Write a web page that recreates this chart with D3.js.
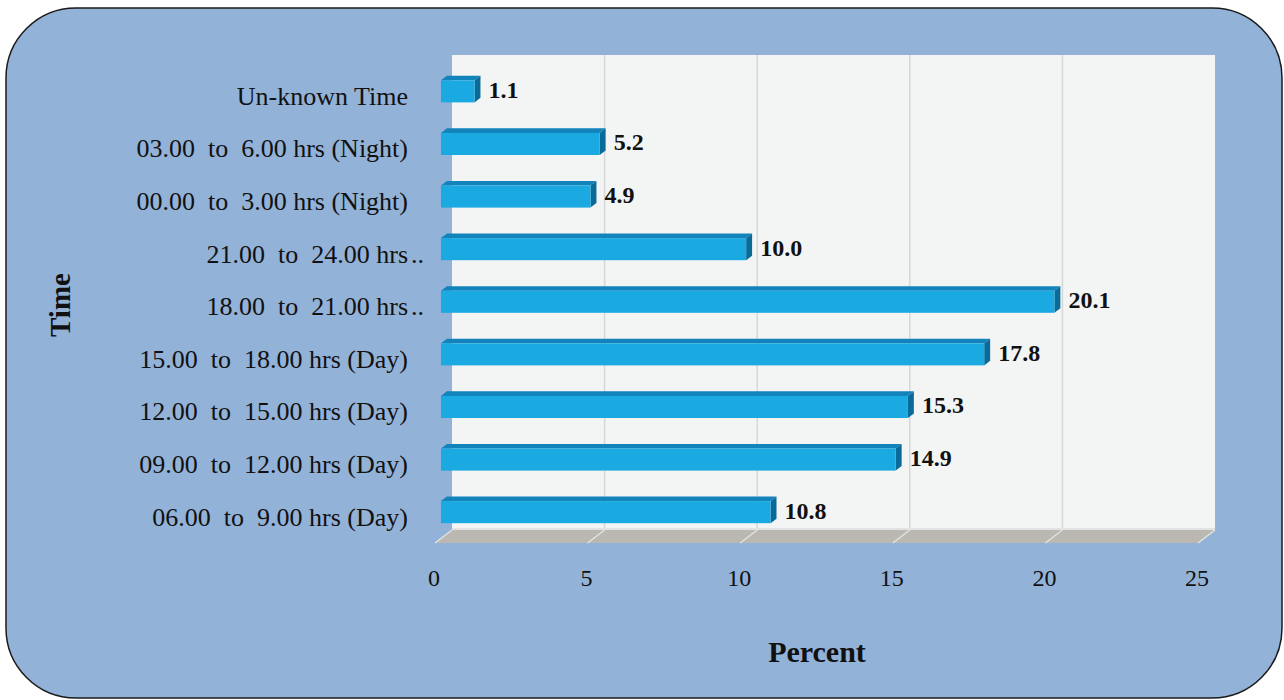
<!DOCTYPE html>
<html>
<head>
<meta charset="utf-8">
<script src="https://cdn.jsdelivr.net/npm/d3@7"></script>
<style>
  html, body { margin: 0; padding: 0; background: #ffffff; }
  svg { display: block; }
  text { font-family: "Liberation Serif", "Times New Roman", serif; fill: #111; }
</style>
</head>
<body>
<svg id="chart" width="1284" height="700"></svg>
<script>
// ---- data ----
const categories = [
  "Un-known Time",
  "03.00  to  6.00 hrs (Night)",
  "00.00  to  3.00 hrs (Night)",
  "21.00  to  24.00 hrs ..",
  "18.00  to  21.00 hrs ..",
  "15.00  to  18.00 hrs (Day)",
  "12.00  to  15.00 hrs (Day)",
  "09.00  to  12.00 hrs (Day)",
  "06.00  to  9.00 hrs (Day)"
];
const values = [1.1, 5.2, 4.9, 10.0, 20.1, 17.8, 15.3, 14.9, 10.8];
const xTicks = [0, 5, 10, 15, 20, 25];
const xTitle = "Percent";
const yTitle = "Time";

// ---- layout ----
const svg = d3.select("#chart");
const depthX = 17, depthY = 13;     // 3D depth vector of the floor
const barD0 = 0.35, barD1 = 0.7;    // bar depth range (fraction)
const floorFront = 543;

const x = d3.scaleLinear().domain([0, 25]).range([435, 1198]);
const y = d3.scaleBand().domain(categories).range([69.6, floorFront])
  .paddingInner(0.58).paddingOuter(0.29);

// frame
svg.append("rect")
  .attr("x", 6).attr("y", 8).attr("width", 1276).attr("height", 690)
  .attr("rx", 70).attr("ry", 70)
  .attr("fill", "#93b2d8").attr("stroke", "#1a1a1a").attr("stroke-width", 1.5);

// back wall
const wallTop = 55;
const wallBottom = floorFront - depthY;
svg.append("rect")
  .attr("x", x(0) + depthX).attr("y", wallTop)
  .attr("width", x(25) - x(0)).attr("height", wallBottom - wallTop)
  .attr("fill", "#f3f5f5");

// wall gridlines
svg.append("g").selectAll("line").data(xTicks.filter(t => t > 0 && t < 25)).join("line")
  .attr("x1", d => x(d) + depthX).attr("x2", d => x(d) + depthX)
  .attr("y1", wallTop).attr("y2", wallBottom)
  .attr("stroke", "#d6d8d8").attr("stroke-width", 1.5);

// floor
const floorPts = [
  [x(0), floorFront], [x(25), floorFront],
  [x(25) + depthX, wallBottom], [x(0) + depthX, wallBottom]
];
svg.append("polygon")
  .attr("points", floorPts.map(p => p.join(",")).join(" "))
  .attr("fill", "#bbb8b1");
svg.append("line")
  .attr("x1", x(0) + depthX).attr("x2", x(25) + depthX)
  .attr("y1", wallBottom - 1).attr("y2", wallBottom - 1)
  .attr("stroke", "#e2e3e2").attr("stroke-width", 2);

// floor gridlines
svg.append("g").selectAll("line").data(xTicks).join("line")
  .attr("x1", d => x(d)).attr("y1", floorFront)
  .attr("x2", d => x(d) + depthX).attr("y2", wallBottom)
  .attr("stroke", "#e6e6e2").attr("stroke-width", 1.2);

// bars (3D boxes)
const dx0 = barD0 * depthX, dy0 = barD0 * depthY;
const ddx = (barD1 - barD0) * depthX, ddy = (barD1 - barD0) * depthY;
const bars = svg.append("g").selectAll("g").data(categories).join("g");
bars.each(function (c, i) {
  const g = d3.select(this);
  const x0 = x(0) + dx0, x1 = x(values[i]) + dx0;
  const y0 = y(c) - dy0, h = y.bandwidth();
  g.append("polygon")
    .attr("points", [[x0, y0], [x1, y0], [x1 + ddx, y0 - ddy], [x0 + ddx, y0 - ddy]].map(p => p.join(",")).join(" "))
    .attr("fill", "#1283bb");
  g.append("polygon")
    .attr("points", [[x1, y0], [x1 + ddx, y0 - ddy], [x1 + ddx, y0 + h - ddy], [x1, y0 + h]].map(p => p.join(",")).join(" "))
    .attr("fill", "#0b6b98");
  g.append("rect")
    .attr("x", x0).attr("y", y0).attr("width", x1 - x0).attr("height", h)
    .attr("fill", "#1aa9e1");
  g.append("text")
    .attr("x", x1 + 14).attr("y", y0 + h / 2 + 1)
    .attr("dominant-baseline", "middle")
    .attr("font-size", 24).attr("font-weight", "bold")
    .text(d3.format(".1f")(values[i]));
});

// category labels (truncated ones have their ".." hanging past the label edge)
const labelX = 408;
const catG = svg.append("g").selectAll("g").data(categories).join("g")
  .attr("transform", d => `translate(${labelX},${y(d) + y.bandwidth() / 2 + 3})`);
catG.append("text")
  .attr("text-anchor", "end")
  .attr("dominant-baseline", "middle")
  .attr("font-size", 26)
  .style("white-space", "pre")
  .text(d => d.endsWith(" ..") ? d.slice(0, -3) : d);
catG.filter(d => d.endsWith(" ..")).append("text")
  .attr("x", 3)
  .attr("dominant-baseline", "middle")
  .attr("font-size", 26)
  .text("..");

// x tick labels
svg.append("g").selectAll("text").data(xTicks).join("text")
  .attr("x", d => x(d) - 1)
  .attr("y", 580)
  .attr("text-anchor", "middle")
  .attr("dominant-baseline", "middle")
  .attr("font-size", 24)
  .text(d => d);

// axis titles
svg.append("text")
  .attr("x", 817).attr("y", 655)
  .attr("text-anchor", "middle").attr("dominant-baseline", "middle")
  .attr("font-size", 30).attr("font-weight", "bold")
  .text(xTitle);
svg.append("text")
  .attr("transform", "translate(63,305) rotate(-90)")
  .attr("text-anchor", "middle").attr("dominant-baseline", "middle")
  .attr("font-size", 29).attr("font-weight", "bold")
  .text(yTitle);
</script>
</body>
</html>
